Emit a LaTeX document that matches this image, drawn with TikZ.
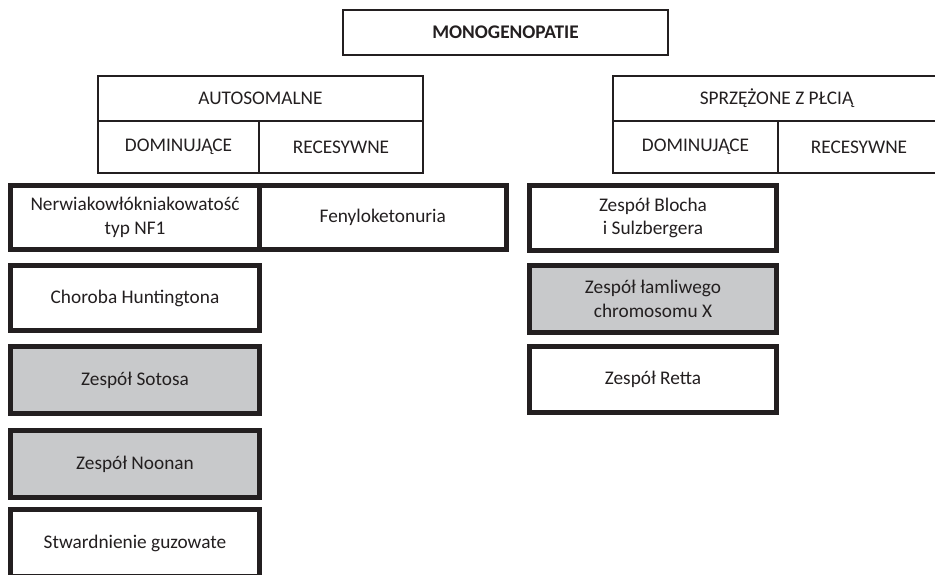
\documentclass[tikz,border=0pt]{standalone}
\usepackage{fontspec}
\setmainfont{Carlito}
\definecolor{ink}{RGB}{35,31,32}
\definecolor{shade}{RGB}{200,201,203}
\begin{document}
\begin{tikzpicture}[x=1pt, y=-1pt,
	every node/.style={font=\fontsize{19.3}{23.5}\selectfont, text=ink, align=center, inner sep=0pt, outer sep=0pt},
	thin/.style={draw=ink, line width=1.1pt},
	thick/.style={draw=ink, line width=5pt, fill=white},
	grey/.style={thick, fill=shade}]

\clip (0,0) rectangle (935,574);

\node[thin, font=\fontsize{19.3}{23.5}\selectfont\bfseries, minimum width=325, minimum height=45] (mono) at (505.5,32.5) {MONOGENOPATIE};

% Autosomalne
	\node[thin, minimum width=325, minimum height=45] (auto) at (260.5,98.5) {AUTOSOMALNE};
	\node[thin, minimum width=161, minimum height=52] (autodom) at (178.5,147) {DOMINUJĄCE};
	\node[thin, minimum width=164, minimum height=52] (autorec) at (341,147) {RECESYWNE};

	\node[thick, minimum width=249, minimum height=64] (nf) at (135,217.5) {Nerwiakowłókniakowatość\\typ NF1};
	\node[thick, minimum width=246.5, minimum height=64] (pku) at (382.75,217.5) {Fenyloketonuria};
	\node[thick, minimum width=249, minimum height=65] (hunt) at (135,298) {Choroba Huntingtona};
	\node[grey, minimum width=249, minimum height=67] (sotos) at (135,380) {Zespół Sotosa};
	\node[grey, minimum width=249, minimum height=67] (noonan) at (135,464) {Zespół Noonan};
	\node[thick, minimum width=249, minimum height=67] (tsc) at (135,543) {Stwardnienie guzowate};

% Sprzężone z płcią
	\node[thin, minimum width=327, minimum height=45] (sex) at (776.5,98.5) {SPRZĘŻONE Z PŁCIĄ};
	\node[thin, minimum width=165, minimum height=52] (sexdom) at (695.5,147) {DOMINUJĄCE};
	\node[thin, minimum width=162, minimum height=52] (sexrec) at (859,147) {RECESYWNE};

	\node[thick, minimum width=247, minimum height=65] (bloch) at (653,218) {Zespół Blocha\\i Sulzbergera};
	\node[grey, minimum width=247, minimum height=67] (fragx) at (653,299) {Zespół łamliwego\\chromosomu X};
	\node[thick, minimum width=247, minimum height=66] (rett) at (653,379.5) {Zespół Retta};
\end{tikzpicture}
\end{document}
